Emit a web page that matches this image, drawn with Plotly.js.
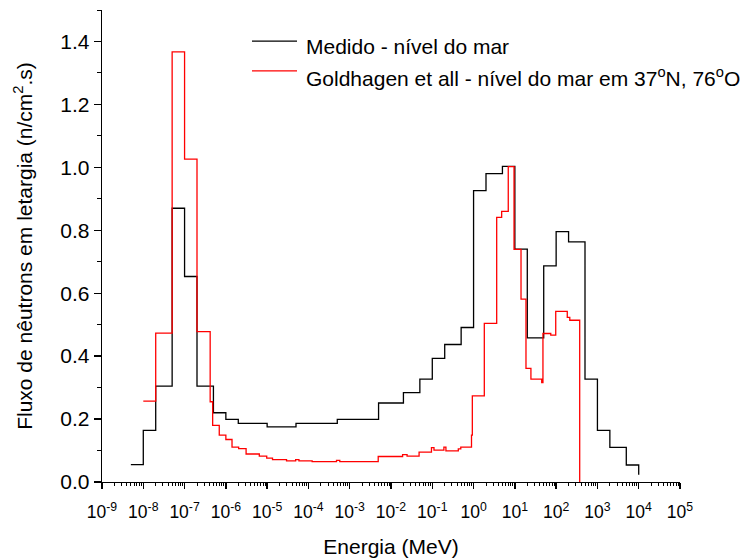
<!DOCTYPE html>
<html>
<head>
<meta charset="utf-8">
<script src="https://cdn.plot.ly/plotly-3.0.1.min.js"></script>
<style>html,body{margin:0;padding:0;background:#fff;}#chart{width:751px;height:560px;}</style>
</head>
<body>
<div id="chart"></div>
<script>
// Medido - nível do mar : bin left edges (MeV), last value is the end drop
const medidoE = [5e-9, 1e-8, 2e-8, 5e-8, 1e-7, 2e-7, 5e-7, 1e-6, 2e-6, 1e-5, 5e-5, 5e-4, 5e-3, 2e-2, 5e-2, 1e-1, 2e-1, 5e-1, 1, 2, 5, 10, 20, 50, 100, 200, 500, 1000, 2000, 5000, 10000];
const medidoFlux = [0.055, 0.164, 0.305, 0.870, 0.653, 0.305, 0.220, 0.199, 0.186, 0.175, 0.186, 0.199, 0.251, 0.284, 0.327, 0.393, 0.437, 0.491, 0.926, 0.980, 1.003, 0.740, 0.458, 0.687, 0.796, 0.763, 0.327, 0.164, 0.110, 0.054, 0.023];

// Goldhagen et all - nível do mar em 37°N, 76°O
const goldhagenE = [1e-8, 2e-8, 5e-8, 1e-7, 2e-7, 4.17e-7, 4.79e-7, 6.92e-7, 1e-6, 1.41e-6, 2.04e-6, 3.09e-6, 6.46e-6, 9.77e-6, 1.35e-5, 2.95e-5, 4.90e-5, 5.89e-5, 1.23e-4, 4.79e-4, 5.75e-4, 4.90e-3, 1.91e-2, 2.45e-2, 4.79e-2, 9.55e-2, 0.110, 0.191, 0.214, 0.427, 0.490, 0.891, 0.933, 1.82, 3.63, 4.79, 6.92, 9.55, 14.1, 18.6, 24.5, 44.7, 47.9, 74.1, 97.7, 186, 214, 372];
const goldhagenFlux = [0.257, 0.473, 1.367, 1.026, 0.478, 0.255, 0.180, 0.149, 0.135, 0.111, 0.106, 0.089, 0.082, 0.076, 0.071, 0.067, 0.071, 0.067, 0.065, 0.069, 0.065, 0.081, 0.087, 0.082, 0.095, 0.109, 0.101, 0.111, 0.099, 0.105, 0.111, 0.149, 0.274, 0.504, 0.841, 0.860, 1.002, 0.739, 0.581, 0.361, 0.327, 0.316, 0.472, 0.467, 0.542, 0.523, 0.514, 0];

const seriesNames = ['Medido - nível do mar', 'Goldhagen et all - nível do mar em 37<sup>o</sup>N, 76<sup>o</sup>O'];
const seriesColors = ['#000000', '#ff0000'];

const decadeExps = [-9,-8,-7,-6,-5,-4,-3,-2,-1,0,1,2,3,4,5];
const tickLabels = decadeExps.map(e => '10<sup>' + e + '</sup>');
const tickVals = decadeExps.map(e => Math.pow(10, e));
const minorVals = [];
decadeExps.slice(0, -1).forEach(e => { for (let m = 2; m <= 9; m++) minorVals.push(m * Math.pow(10, e)); });

const FONT = 'Liberation Sans, Arial, sans-serif';

const traces = [
  {x: medidoE, y: medidoFlux, type: 'scatter', mode: 'lines', line: {shape: 'hv', color: seriesColors[0], width: 1.3},
   name: seriesNames[0]},
  {x: goldhagenE, y: goldhagenFlux, type: 'scatter', mode: 'lines', line: {shape: 'hv', color: seriesColors[1], width: 1.3},
   name: seriesNames[1]}
];

// manual legend (keeps plot area fixed)
const legLineY = [0.934, 0.871];
const legTextY = [0.922, 0.857];
const shapes = [], annotations = [];
seriesNames.forEach((n, i) => {
  shapes.push({type: 'line', xref: 'paper', yref: 'paper', x0: 0.2595, x1: 0.3374, y0: legLineY[i], y1: legLineY[i],
    line: {color: seriesColors[i], width: 1.3}});
  annotations.push({xref: 'paper', yref: 'paper', x: 0.350, y: legTextY[i], xanchor: 'left', yanchor: 'middle',
    text: n, showarrow: false, font: {family: FONT, size: 21, color: '#000'}});
});

const layout = {
  width: 751, height: 560,
  margin: {l: 102, r: 71, t: 10, b: 78},
  paper_bgcolor: '#ffffff', plot_bgcolor: '#ffffff',
  font: {family: FONT, color: '#000000', size: 21},
  showlegend: false,
  shapes: shapes,
  annotations: annotations,
  xaxis: {
    type: 'log', range: [-9, 5], showgrid: false, zeroline: false,
    showline: true, linecolor: '#000', linewidth: 1.3, mirror: false,
    tickmode: 'array', tickvals: tickVals, ticktext: tickLabels,
    ticks: 'outside', ticklen: 6, tickwidth: 1.3, tickcolor: '#000',
    ticklabelstandoff: 8,
    tickfont: {family: FONT, size: 17.5, color: '#000'},
    minor: {tickmode: 'array', tickvals: minorVals, ticks: 'outside', ticklen: 3, tickwidth: 1, tickcolor: '#000', showgrid: false},
    title: {text: 'Energia (MeV)', font: {family: FONT, size: 21, color: '#000'}, standoff: 18}
  },
  yaxis: {
    range: [0, 1.5], showgrid: false, zeroline: false,
    showline: true, linecolor: '#000', linewidth: 1.3, mirror: false,
    tickmode: 'array', tickvals: [0, 0.2, 0.4, 0.6, 0.8, 1.0, 1.2, 1.4],
    ticktext: ['0.0', '0.2', '0.4', '0.6', '0.8', '1.0', '1.2', '1.4'],
    ticks: 'outside', ticklen: 7, tickwidth: 1.3, tickcolor: '#000',
    tickfont: {family: FONT, size: 21, color: '#000'},
    minor: {tickmode: 'array', tickvals: [0.1, 0.3, 0.5, 0.7, 0.9, 1.1, 1.3, 1.5], ticks: 'outside', ticklen: 4, tickwidth: 1, tickcolor: '#000', showgrid: false},
    title: {text: 'Fluxo de nêutrons em letargia (n/cm<sup>2</sup>.s)', font: {family: FONT, size: 21, color: '#000'}, standoff: 22}
  }
};

Plotly.newPlot('chart', traces, layout, {displayModeBar: false, staticPlot: true});
</script>
</body>
</html>
